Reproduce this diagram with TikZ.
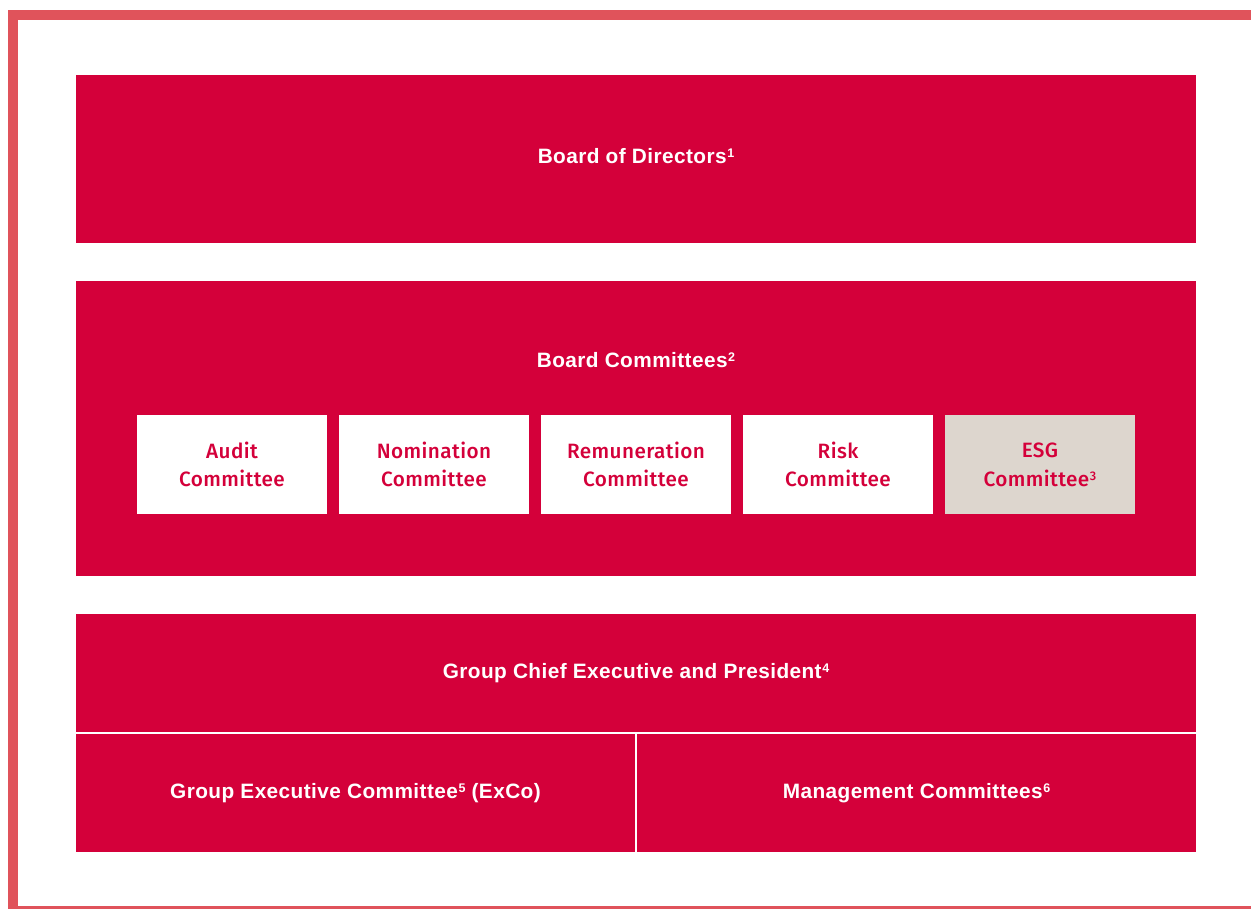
\documentclass[tikz,border=0pt]{standalone}
\usepackage{fontspec}
\setmainfont{Liberation Sans}[LetterSpace=2]
\newfontfamily\medfont{Fira Sans}[UprightFont=* Medium, LetterSpace=2]
\definecolor{brandred}{RGB}{212,0,58}
\definecolor{framered}{RGB}{224,83,91}
\definecolor{esgbeige}{RGB}{221,214,206}
% small footnote marker, top aligned with the capitals
\newcommand{\fnmark}[1]{\kern0.6pt\raisebox{6pt}{\fontsize{12.5}{12.5}\selectfont #1}}
\tikzset{
  whitetext/.style={text=white, font=\bfseries\fontsize{20.8}{24}\selectfont},
  redbox/.style={fill=brandred, inner sep=0pt, whitetext,
    text height=15pt, text depth=5pt},
  combox/.style={fill=white, inner sep=0pt, minimum width=190pt, minimum height=99pt,
    text=brandred, align=center, font=\medfont\fontsize{20.7}{28.7}\selectfont},
  esgbox/.style={combox, fill=esgbeige},
  frameline/.style={fill=framered, draw=none}
}
\begin{document}
\begin{tikzpicture}[x=1pt,y=-1pt]
  \useasboundingbox (0,0) rectangle (1251,909);
  % outer frame: left bar, top bar and thin bottom rule
  \fill[frameline] (8,10) rectangle (18,909);
  \fill[frameline] (8,10) rectangle (1251,20);
  \fill[frameline] (8,905.5) rectangle (1251,909);

  % board of directors
  \node[redbox, minimum width=1120pt, minimum height=168pt] (bod) at (636,159)
    {Board of Directors\fnmark{1}};

  % board committees with its five committees
  \node[fill=brandred, inner sep=0pt, minimum width=1120pt, minimum height=295pt] (bc) at (636,428.5) {};
  \node[whitetext, inner sep=0pt, anchor=base] (bctitle) at (636,368)
    {Board Committees\fnmark{2}};
  \node[combox] (audit) at (232,464.5) {Audit\\Committee};
  \node[combox] (nom)   at (434,464.5) {Nomination\\Committee};
  \node[combox] (rem)   at (636,464.5) {Remuneration\\Committee};
  \node[combox] (risk)  at (838,464.5) {Risk\\Committee};
  \node[esgbox] (esg)   at (1040,464.5) {ESG\\Committee\fnmark{3}};

  % executive level
  \node[redbox, minimum width=1120pt, minimum height=118pt] (gce) at (636,673)
    {Group Chief Executive and President\fnmark{4}};
  \node[redbox, minimum width=559pt, minimum height=118pt] (exco) at (355.5,793)
    {Group Executive Committee\fnmark{5} (ExCo)};
  \node[redbox, minimum width=559pt, minimum height=118pt] (mgmt) at (916.5,793)
    {Management Committees\fnmark{6}};
\end{tikzpicture}
\end{document}
